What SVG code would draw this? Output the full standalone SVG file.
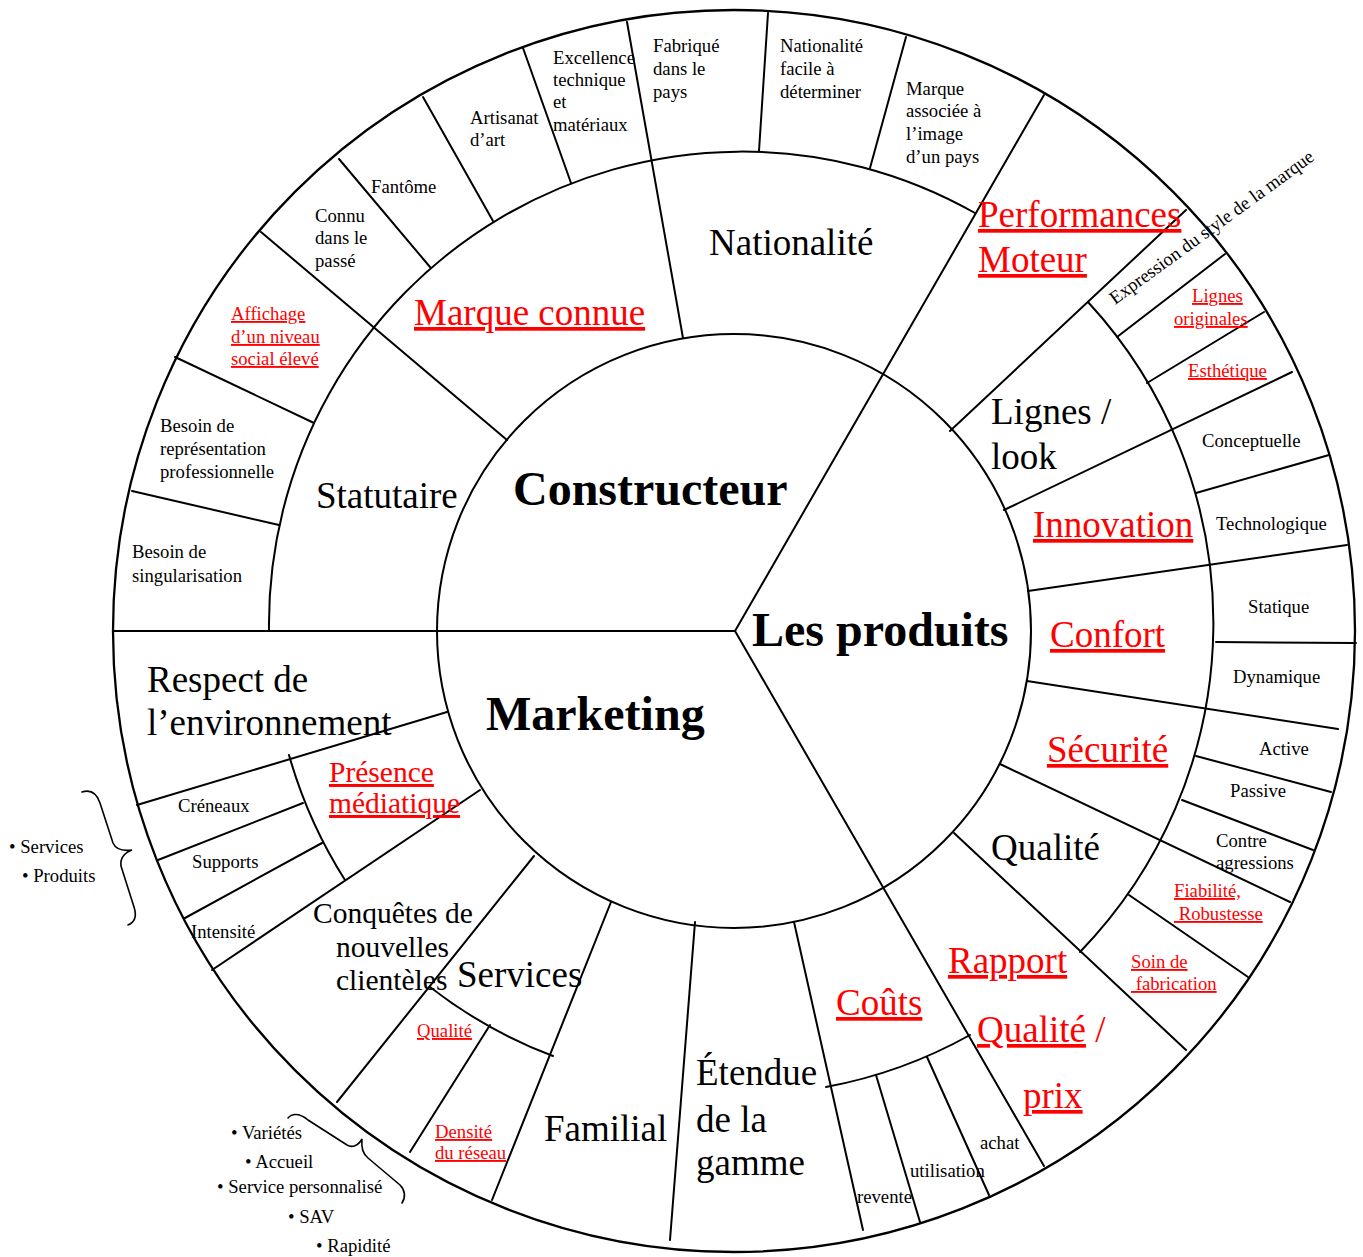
<svg xmlns="http://www.w3.org/2000/svg" width="1363" height="1257" viewBox="0 0 1363 1257">
<style>
text{font-family:"Liberation Serif","Times New Roman",serif;fill:#000}
.b{font-size:48px;font-weight:bold}
.m{font-size:37px}
.n{font-size:29.5px}
.s{font-size:18.7px}
.r{fill:#ff0000;text-decoration:underline}
.rd{fill:#ff0000}
.ln{stroke:#000;stroke-width:2;fill:none;stroke-linecap:round}
</style>
<rect width="1363" height="1257" fill="#fff"/>
<g id="connectors" class="ln">
  <circle cx="734" cy="631" r="621" stroke-width="2.3"/>
  <circle cx="734" cy="631" r="297"/>
  <path d="M269,631 A473,473 0 0 1 975,213"/>
  <path d="M1088,302 A473,473 0 0 1 1080,952"/>
  <path d="M970,1035 A472,472 0 0 1 826,1087"/>
  <path d="M553,1056 A472,472 0 0 1 430,987"/>
  <path d="M345,880 A472,472 0 0 1 289,755"/>
  <line x1="113" y1="631" x2="735" y2="631"/>
  <line x1="735" y1="631" x2="1044" y2="95"/>
  <line x1="735" y1="631" x2="1044" y2="1166"/>
  <line x1="261" y1="232" x2="507" y2="440"/>
  <line x1="627" y1="22" x2="683" y2="338"/>
  <line x1="175" y1="357" x2="314" y2="423"/>
  <line x1="132" y1="491" x2="279" y2="525"/>
  <line x1="339" y1="159" x2="430" y2="267"/>
  <line x1="423" y1="97" x2="493" y2="221"/>
  <line x1="523" y1="48" x2="571" y2="183"/>
  <line x1="768" y1="13" x2="759" y2="151"/>
  <line x1="906" y1="37" x2="870" y2="168"/>
  <line x1="950" y1="431" x2="1186" y2="210"/>
  <line x1="1117" y1="337" x2="1225" y2="254"/>
  <line x1="1147" y1="383" x2="1264" y2="312"/>
  <line x1="1004" y1="510" x2="1292" y2="372"/>
  <line x1="1196" y1="493" x2="1329" y2="455"/>
  <line x1="1028" y1="591" x2="1347" y2="545"/>
  <line x1="1216" y1="642" x2="1356" y2="643"/>
  <line x1="1027" y1="681" x2="1338" y2="729"/>
  <line x1="1196" y1="756" x2="1331" y2="792"/>
  <line x1="1000" y1="764" x2="1290" y2="902"/>
  <line x1="1182" y1="800" x2="1313" y2="850"/>
  <line x1="1129" y1="895" x2="1248" y2="977"/>
  <line x1="954" y1="833" x2="1186" y2="1050"/>
  <line x1="447" y1="712" x2="137" y2="805"/>
  <line x1="480" y1="790" x2="212" y2="970"/>
  <line x1="158" y1="860" x2="303" y2="803"/>
  <line x1="185" y1="918" x2="322" y2="843"/>
  <line x1="534" y1="856" x2="337" y2="1102"/>
  <line x1="490" y1="1025" x2="410" y2="1152"/>
  <line x1="611" y1="902" x2="492" y2="1200"/>
  <line x1="695" y1="922" x2="670" y2="1240"/>
  <line x1="794" y1="922" x2="863" y2="1230"/>
  <line x1="876" y1="1075" x2="920" y2="1222"/>
  <line x1="927" y1="1057" x2="989" y2="1195"/>
  <path d="M82,792 C92,789 97,794 100,803 L113,843 C116,850 124,851 132,850 C124,853 120,858 121,866 L134,907 C137,916 135,922 128,925" stroke-width="1.6"/>
  <path d="M288,1118 C292,1113 300,1113 308,1120 L347,1145 C352,1148 358,1146 362,1139 C361,1148 363,1154 368,1158 L400,1185 C405,1190 406,1197 402,1203" stroke-width="1.6"/>
</g>
<g id="constructeur"><text class="b" x="513" y="505">Constructeur</text></g>
<g id="les-produits"><text class="b" x="752" y="646">Les produits</text></g>
<g id="marketing"><text class="b" x="486" y="730">Marketing</text></g>
<g id="nationalite"><text class="m" x="709" y="255">Nationalité</text></g>
<g id="marque-connue"><text class="m r" x="414" y="325">Marque connue</text></g>
<g id="statutaire"><text class="m" x="316" y="508">Statutaire</text></g>
<g id="performances"><text class="m r" x="978" y="227">Performances</text><text class="m r" x="978" y="272">Moteur</text></g>
<g id="lignes-look"><text class="m" x="991" y="424">Lignes /</text><text class="m" x="991" y="469">look</text></g>
<g id="innovation"><text class="m r" x="1033" y="537">Innovation</text></g>
<g id="confort"><text class="m r" x="1050" y="647">Confort</text></g>
<g id="securite"><text class="m r" x="1047" y="762">Sécurité</text></g>
<g id="qualite"><text class="m" x="991" y="860">Qualité</text></g>
<g id="rapport"><text class="m r" x="948" y="973">Rapport</text><text class="m rd" x="977" y="1042"><tspan class="r">Qualité</tspan> /</text><text class="m r" x="1023" y="1108">prix</text></g>
<g id="couts"><text class="m r" x="836" y="1015">Coûts</text></g>
<g id="etendue"><text class="m" x="696" y="1085">Étendue</text><text class="m" x="696" y="1132">de la</text><text class="m" x="696" y="1175">gamme</text></g>
<g id="familial"><text class="m" x="544" y="1141">Familial</text></g>
<g id="services"><text class="m" x="457" y="987">Services</text></g>
<g id="respect"><text class="m" x="147" y="692">Respect de</text><text class="m" x="147" y="735">l’environnement</text></g>
<g id="conquetes"><text class="n" x="313" y="923">Conquêtes de</text><text class="n" x="336" y="957">nouvelles</text><text class="n" x="336" y="990">clientèles</text></g>
<g id="presence"><text class="n r" x="329" y="782">Présence</text><text class="n r" x="329" y="813">médiatique</text></g>
<g id="excellence"><text class="s" x="553" y="64">Excellence</text><text class="s" x="553" y="86">technique</text><text class="s" x="553" y="108">et</text><text class="s" x="553" y="131">matériaux</text></g>
<g id="artisanat"><text class="s" x="470" y="124">Artisanat</text><text class="s" x="470" y="146">d’art</text></g>
<g id="fantome"><text class="s" x="371" y="193">Fantôme</text></g>
<g id="connu"><text class="s" x="315" y="222">Connu</text><text class="s" x="315" y="244">dans le</text><text class="s" x="315" y="267">passé</text></g>
<g id="affichage"><text class="s r" x="231" y="320">Affichage</text><text class="s r" x="231" y="343">d’un niveau</text><text class="s r" x="231" y="365">social élevé</text></g>
<g id="besoin-rep"><text class="s" x="160" y="432">Besoin de</text><text class="s" x="160" y="455">représentation</text><text class="s" x="160" y="478">professionnelle</text></g>
<g id="besoin-sing"><text class="s" x="132" y="558">Besoin de</text><text class="s" x="132" y="582">singularisation</text></g>
<g id="fabrique"><text class="s" x="653" y="52">Fabriqué</text><text class="s" x="653" y="75">dans le</text><text class="s" x="653" y="98">pays</text></g>
<g id="nat-facile"><text class="s" x="780" y="52">Nationalité</text><text class="s" x="780" y="75">facile à</text><text class="s" x="780" y="98">déterminer</text></g>
<g id="marque-pays"><text class="s" x="906" y="95">Marque</text><text class="s" x="906" y="117">associée à</text><text class="s" x="906" y="140">l’image</text><text class="s" x="906" y="163">d’un pays</text></g>
<g id="expression"><text class="s" x="1115" y="305" font-size="18" transform="rotate(-36 1115 305)">Expression du style de la marque</text></g>
<g id="lignes-orig"><text class="s r" x="1192" y="302">Lignes</text><text class="s r" x="1174" y="325">originales</text></g>
<g id="esthetique"><text class="s r" x="1188" y="377">Esthétique</text></g>
<g id="conceptuelle"><text class="s" x="1202" y="447">Conceptuelle</text></g>
<g id="technologique"><text class="s" x="1216" y="530">Technologique</text></g>
<g id="statique"><text class="s" x="1248" y="613">Statique</text></g>
<g id="dynamique"><text class="s" x="1233" y="683">Dynamique</text></g>
<g id="active"><text class="s" x="1259" y="755">Active</text></g>
<g id="passive"><text class="s" x="1230" y="797">Passive</text></g>
<g id="contre"><text class="s" x="1216" y="847">Contre</text><text class="s" x="1216" y="869">agressions</text></g>
<g id="fiabilite"><text class="s r" x="1174" y="897">Fiabilité,</text><text class="s r" x="1174" y="920">&#160;Robustesse</text></g>
<g id="soin"><text class="s r" x="1131" y="968">Soin de</text><text class="s r" x="1131" y="990">&#160;fabrication</text></g>
<g id="achat"><text class="s" x="980" y="1149">achat</text></g>
<g id="utilisation"><text class="s" x="910" y="1177">utilisation</text></g>
<g id="revente"><text class="s" x="857" y="1203">revente</text></g>
<g id="qualite-serv"><text class="s r" x="417" y="1037">Qualité</text></g>
<g id="densite"><text class="s r" x="435" y="1138">Densité</text><text class="s r" x="435" y="1159">du réseau</text></g>
<g id="creneaux"><text class="s" x="178" y="812">Créneaux</text></g>
<g id="supports"><text class="s" x="192" y="868">Supports</text></g>
<g id="intensite"><text class="s" x="191" y="938">Intensité</text></g>
<g id="note-left"><text class="s" x="9" y="853">• Services</text><text class="s" x="22" y="882">• Produits</text></g>
<g id="note-bottom"><text class="s" x="231" y="1139">• Variétés</text><text class="s" x="245" y="1168">• Accueil</text><text class="s" x="217" y="1193">• Service personnalisé</text><text class="s" x="288" y="1223">• SAV</text><text class="s" x="316" y="1252">• Rapidité</text></g>
</svg>
